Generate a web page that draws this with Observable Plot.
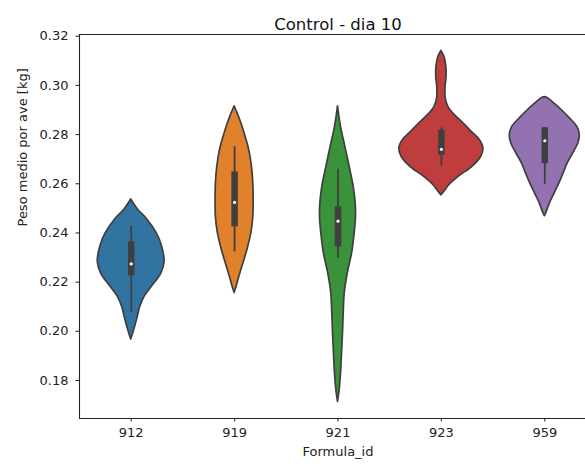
<!DOCTYPE html>
<html>
<head>
<meta charset="utf-8">
<script src="https://cdn.jsdelivr.net/npm/d3@7"></script>
<script src="https://cdn.jsdelivr.net/npm/@observablehq/plot@0.6"></script>
<style>
  html, body { margin: 0; padding: 0; background: #fff; overflow: hidden; }
  #wrap { width: 585px; height: 464px; overflow: hidden; }
  #wrap svg { display: block; }
</style>
</head>
<body>
<div id="wrap"></div>
<script>
// ---- data ----
const title = "Control - dia 10";
const xLabel = "Formula_id";
const yLabel = "Peso medio por ave [kg]";
const categories = ["912", "919", "921", "923", "959"];
const yTicks = [0.18, 0.20, 0.22, 0.24, 0.26, 0.28, 0.30, 0.32];
const yDomain = [0.16455, 0.3207];
const xDomain = [-0.5, 4.5];

// violin outlines: [value, half-width (in category units)]
const violin912 = [[0.2536,0],[0.2492,0.071],[0.2465,0.136],[0.2397,0.249],[0.2343,0.300],[0.2282,0.323],[0.2235,0.291],[0.2181,0.200],[0.2140,0.129],[0.2099,0.087],[0.2045,0.055],[0.1991,0.019],[0.1967,0]];
const violin919 = [[0.2915,0],[0.2858,0.055],[0.2804,0.097],[0.2736,0.142],[0.2668,0.168],[0.2601,0.181],[0.2533,0.184],[0.2465,0.181],[0.2397,0.161],[0.2330,0.123],[0.2275,0.084],[0.2221,0.045],[0.2181,0.019],[0.2156,0]];
const violin921 = [[0.2915,0],[0.2831,0.029],[0.2750,0.071],[0.2668,0.113],[0.2587,0.152],[0.2519,0.171],[0.2465,0.174],[0.2397,0.161],[0.2316,0.136],[0.2235,0.094],[0.2154,0.065],[0.2072,0.055],[0.1991,0.048],[0.1910,0.039],[0.1828,0.029],[0.1761,0.016],[0.1713,0]];
const violin923 = [[0.3140,0],[0.3116,0.029],[0.3075,0.048],[0.3034,0.050],[0.2994,0.040],[0.2946,0.042],[0.2912,0.068],[0.2878,0.132],[0.2845,0.215],[0.2811,0.294],[0.2777,0.373],[0.2743,0.407],[0.2709,0.384],[0.2668,0.297],[0.2628,0.166],[0.2594,0.076],[0.2567,0.027],[0.2553,0]];
const violin959 = [[0.2952,0],[0.2948,0.030],[0.2926,0.094],[0.2899,0.165],[0.2865,0.245],[0.2831,0.315],[0.2797,0.339],[0.2763,0.323],[0.2723,0.274],[0.2682,0.220],[0.2641,0.181],[0.2601,0.140],[0.2560,0.094],[0.2519,0.048],[0.2486,0.019],[0.2468,0]];

// inner box statistics
const whiskerHigh = [0.2427, 0.2751, 0.2659, 0.2828, 0.2828];
const q3          = [0.2364, 0.2648, 0.2506, 0.2817, 0.2828];
const median      = [0.2274, 0.2524, 0.2448, 0.2740, 0.2775];
const q1          = [0.2225, 0.2425, 0.2343, 0.2716, 0.2682];
const whiskerLow  = [0.2078, 0.2323, 0.2296, 0.2671, 0.2598];

// ---- styles ----
const palette = ["#3274a1", "#e1812c", "#3a923a", "#c03d3e", "#9372b2"];
const ink = "#3f3f3f";

// ---- build tables ----
const outlines = [violin912, violin919, violin921, violin923, violin959];
const violinRows = outlines.flatMap((pts, i) =>
  pts.map(([v, w]) => ({cat: categories[i], i, v, w})));
const boxRows = categories.map((cat, i) => ({
  cat, i, lo: whiskerLow[i], hi: whiskerHigh[i], q1: q1[i], q3: q3[i], med: median[i]
}));

const chart = Plot.plot({
  width: 585,
  height: 464,
  marginLeft: 79,
  marginRight: -11,
  marginTop: 34,
  marginBottom: 46,
  style: {fontFamily: "DejaVu Sans, sans-serif", fontSize: "13px", color: "#222", background: "#fff"},
  x: {type: "linear", domain: xDomain},
  y: {domain: yDomain},
  color: {domain: categories, range: palette},
  marks: [
    Plot.areaX(violinRows, {
      y: "v", x1: d => d.i - d.w, x2: d => d.i + d.w, z: "cat",
      fill: "cat", stroke: ink, strokeWidth: 1.7, curve: "catmull-rom"
    }),
    Plot.ruleX(boxRows, {x: "i", y1: "lo", y2: "hi", stroke: ink, strokeWidth: 1.8}),
    Plot.ruleX(boxRows, {x: "i", y1: "q1", y2: "q3", stroke: ink, strokeWidth: 6.5}),
    Plot.dot(boxRows, {x: "i", y: "med", r: 1.6, fill: "white", stroke: null}),
    // spines: top, bottom, left (right spine lies outside the picture)
    Plot.ruleY(yDomain, {stroke: "#222", strokeWidth: 1.1}),
    Plot.ruleX([xDomain[0]], {stroke: "#222", strokeWidth: 1.1}),
    Plot.axisY({ticks: yTicks, tickFormat: ".2f", tickSize: 3.5, tickPadding: 7.5, label: null, stroke: "#222"}),
    Plot.axisX({ticks: d3.range(categories.length), tickFormat: i => categories[i], tickSize: 3.5, tickPadding: 6, label: null, stroke: "#222"}),
    Plot.text([title], {frameAnchor: "top", dy: -16, fontSize: 16.5, fill: "#111"}),
    Plot.text([xLabel], {frameAnchor: "bottom", dy: 37, fontSize: 13, fill: "#222"}),
    Plot.text([yLabel], {frameAnchor: "left", dx: -57, rotate: -90, fontSize: 13, fill: "#222"})
  ]
});
document.getElementById("wrap").appendChild(chart);
</script>
</body>
</html>
